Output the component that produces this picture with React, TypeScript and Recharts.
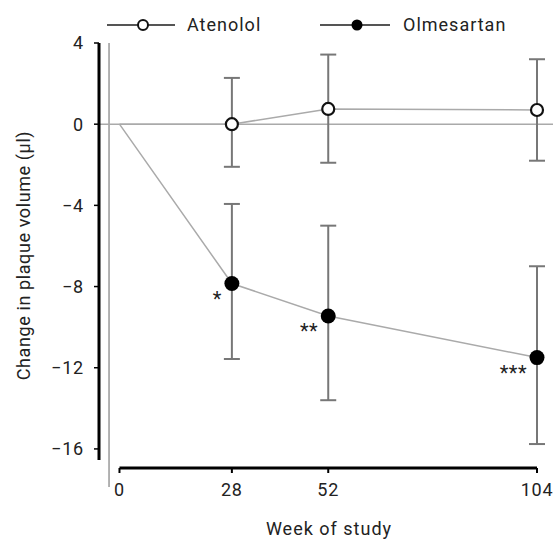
import React from 'react';
import {
    ComposedChart, Line, XAxis, YAxis, ErrorBar, ReferenceLine, LabelList
} from 'recharts';

// --- DATA ---
const weeks = [0, 28, 52, 104];
const atenolol = [0, 0, 0.75, 0.7];
const atenololLow = [null, -2.1, -1.9, -1.8];
const atenololHigh = [null, 2.28, 3.43, 3.2];
const olmesartan = [0, -7.85, -9.45, -11.5];
const olmesartanLow = [null, -11.57, -13.6, -15.76];
const olmesartanHigh = [null, -3.93, -5.0, -7.0];
const significance = ['', '*', '**', '***'];
const xTicks = [0, 28, 52, 104];
const yTicks = [4, 0, -4, -8, -12, -16];

// axis extents (data units)
const X_MIN = -5.1;
const X_MAX = 104;
const X_EDGE = 108.2;
const Y_MIN = -16.94;
const Y_MAX = 4;
const Y_AXIS_END = -16.55;
const GHOST_X = -2.6;
const GHOST_Y_END = -17.87;

const FONT = 'Roboto, sans-serif';
const TEXT = '#222';

const toErr = (c: number, lo: number | null, hi: number | null) =>
    lo == null || hi == null ? undefined : [c - lo, hi - c];

const chartData = weeks.map((w, i) => ({
    week: w,
    atenolol: atenolol[i],
    atErr: toErr(atenolol[i], atenololLow[i], atenololHigh[i]),
    olmesartan: olmesartan[i],
    olErr: toErr(olmesartan[i], olmesartanLow[i], olmesartanHigh[i]),
    sig: significance[i]
}));

const minus = (v: number) => (v < 0 ? '\u2212' + Math.abs(v) : String(v));

const OpenDot = (props: any) => {
    const { cx, cy, index } = props;
    if (index === 0) return <g key={`ad-${index}`} />;
    return <circle key={`ad-${index}`} cx={cx} cy={cy} r={6} fill="#fff" stroke="#111" strokeWidth={2.2} />;
};

const FilledDot = (props: any) => {
    const { cx, cy, index } = props;
    if (index === 0) return <g key={`od-${index}`} />;
    return <circle key={`od-${index}`} cx={cx} cy={cy} r={7.5} fill="#000" />;
};

const SigLabel = (props: any) => {
    const { x, y, value } = props;
    if (!value) return null;
    return (
        <text x={x - 10} y={y + 22} textAnchor="end" fontSize={20} fontFamily={FONT} fill={TEXT} letterSpacing={0.5}>
            {value}
        </text>
    );
};

const YLabel = (props: any) => {
    const { viewBox } = props;
    const cx = 30;
    const cy = viewBox.y + viewBox.height / 2;
    return (
        <text x={cx} y={cy} transform={`rotate(-90 ${cx} ${cy})`} textAnchor="middle"
            fontSize={18} fontFamily={FONT} fill={TEXT} letterSpacing={0.6}>
            Change in plaque volume (µl)
        </text>
    );
};

const XLabel = (props: any) => {
    const { viewBox } = props;
    const cx = viewBox.x + viewBox.width / 2 + 11;
    return (
        <text x={cx} y={535} textAnchor="middle" fontSize={18} fontFamily={FONT} fill={TEXT} letterSpacing={1}>
            Week of study
        </text>
    );
};

const ChartLegend = () => (
    <svg width={553} height={40} style={{ position: 'absolute', left: 0, top: 0 }}>
        <line x1={107} y1={25} x2={175} y2={25} stroke="#555" strokeWidth={2} />
        <circle cx={143} cy={25} r={5} fill="#fff" stroke="#111" strokeWidth={2} />
        <text x={187} y={31} fontSize={18} fontFamily={FONT} fill={TEXT} letterSpacing={1}>Atenolol</text>
        <line x1={320} y1={25} x2={390} y2={25} stroke="#555" strokeWidth={2} />
        <circle cx={357} cy={25} r={5.5} fill="#000" />
        <text x={403} y={31} fontSize={18} fontFamily={FONT} fill={TEXT} letterSpacing={1}>Olmesartan</text>
    </svg>
);

export default function App() {
    return (
        <div style={{ position: 'absolute', left: 0, top: 0, width: 553, height: 542, background: '#fff' }}>
            <ComposedChart width={553} height={542} data={chartData}
                margin={{ top: 43, right: 16, bottom: 0, left: 0 }}>
                <XAxis
                    type="number"
                    dataKey="week"
                    domain={[X_MIN, X_MAX]}
                    ticks={xTicks}
                    axisLine={false}
                    tickLine={{ stroke: '#000', strokeWidth: 2 }}
                    tickSize={5}
                    tickMargin={10}
                    height={74}
                    tick={{ fontSize: 18, fontFamily: FONT, fill: TEXT, letterSpacing: 0.8 }}
                    label={<XLabel />}
                />
                <YAxis
                    type="number"
                    domain={[Y_MIN, Y_MAX]}
                    ticks={yTicks}
                    axisLine={false}
                    tickLine={{ stroke: '#000', strokeWidth: 1.5 }}
                    tickSize={5}
                    tickMargin={10}
                    width={99}
                    tickFormatter={minus}
                    tick={{ fontSize: 18, fontFamily: FONT, fill: TEXT, letterSpacing: 0.8 }}
                    label={<YLabel />}
                />
                {/* axis frame */}
                <ReferenceLine segment={[{ x: GHOST_X, y: Y_MAX }, { x: GHOST_X, y: GHOST_Y_END }]}
                    stroke="#999" strokeWidth={1.5} ifOverflow="visible" />
                <ReferenceLine segment={[{ x: X_MIN, y: 0 }, { x: X_EDGE, y: 0 }]}
                    stroke="#aaa" strokeWidth={1.5} ifOverflow="visible" />
                <ReferenceLine segment={[{ x: X_MIN, y: Y_MAX }, { x: X_MIN, y: Y_AXIS_END }]}
                    stroke="#000" strokeWidth={3} ifOverflow="visible" />
                <ReferenceLine segment={[{ x: xTicks[0], y: Y_MIN }, { x: X_MAX, y: Y_MIN }]}
                    stroke="#000" strokeWidth={3} ifOverflow="visible" />

                <Line
                    dataKey="atenolol"
                    stroke="#aaa"
                    strokeWidth={1.5}
                    dot={<OpenDot />}
                    activeDot={false}
                    isAnimationActive={false}
                >
                    <ErrorBar dataKey="atErr" width={8} stroke="#777" strokeWidth={2} direction="y" isAnimationActive={false} />
                </Line>
                <Line
                    dataKey="olmesartan"
                    stroke="#aaa"
                    strokeWidth={1.5}
                    dot={<FilledDot />}
                    activeDot={false}
                    isAnimationActive={false}
                >
                    <ErrorBar dataKey="olErr" width={8} stroke="#777" strokeWidth={2} direction="y" isAnimationActive={false} />
                    <LabelList dataKey="sig" content={<SigLabel />} />
                </Line>
            </ComposedChart>
            <ChartLegend />
        </div>
    );
}
